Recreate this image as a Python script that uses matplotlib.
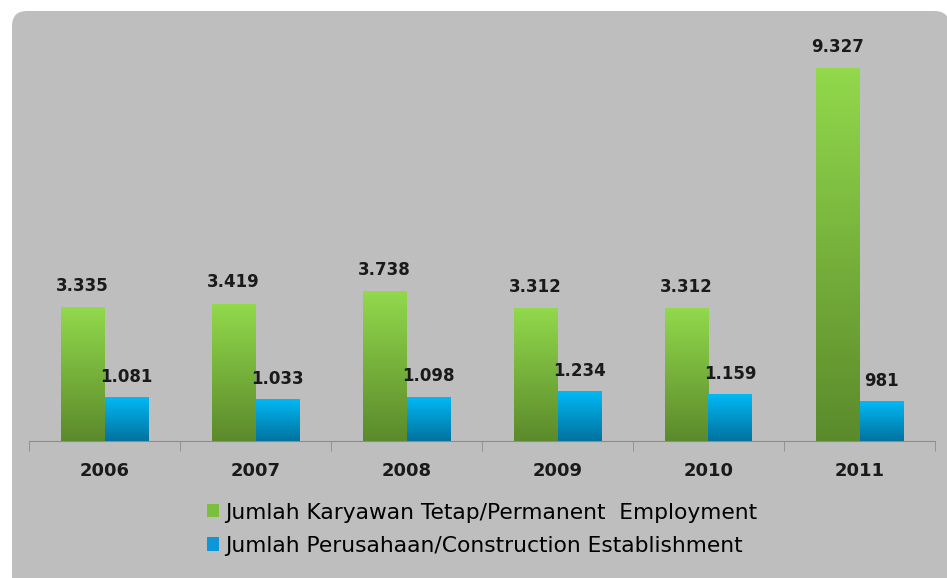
import numpy as np
import matplotlib.pyplot as plt
from matplotlib.patches import FancyBboxPatch, Patch
from matplotlib.colors import LinearSegmentedColormap

years = ["2006", "2007", "2008", "2009", "2010", "2011"]
employment = [3335, 3419, 3738, 3312, 3312, 9327]
establishment = [1081, 1033, 1098, 1234, 1159, 981]
emp_labels = ["3.335", "3.419", "3.738", "3.312", "3.312", "9.327"]
est_labels = ["1.081", "1.033", "1.098", "1.234", "1.159", "981"]
legend_names = ["Jumlah Karyawan Tetap/Permanent  Employment",
                "Jumlah Perusahaan/Construction Establishment"]

green_cm = LinearSegmentedColormap.from_list("g", ["#5b8a2b", "#92d94c"])
blue_cm = LinearSegmentedColormap.from_list("b", ["#00729f", "#00b9f5"])

fig = plt.figure(figsize=(9.47, 5.78), dpi=100)
fig.patch.set_facecolor("white")
bg = FancyBboxPatch((12 / 947, -0.05), 0.99, 1.031, boxstyle="round,pad=0,rounding_size=0.016",
                    transform=fig.transFigure, facecolor="#bebebe", edgecolor="none",
                    mutation_aspect=947 / 578, zorder=-5)
fig.patches.append(bg)

ax = fig.add_axes([29 / 947, 137 / 578, 906 / 947, 399 / 578])
ax.set_facecolor("none")
x = np.arange(len(years))
w = 0.29
b1 = ax.bar(x - w / 2, employment, w, color="none")
b2 = ax.bar(x + w / 2, establishment, w, color="none")

# vertical gradient fill for each bar
grad = np.linspace(0, 1, 256).reshape(-1, 1)
for bars, cm in ((b1, green_cm), (b2, blue_cm)):
    for r in bars:
        x0, y0 = r.get_x(), r.get_y()
        ax.imshow(grad, cmap=cm, origin="lower", aspect="auto",
                  extent=(x0, x0 + r.get_width(), y0, y0 + r.get_height()), zorder=2)

for r, t in zip(b1, emp_labels):
    ax.text(r.get_x() + r.get_width() / 2, r.get_height() + 330, t, ha="center", va="bottom",
            fontsize=12, fontweight="bold", color="#1a1a1a")
for r, t in zip(b2, est_labels):
    ax.text(r.get_x() + r.get_width() / 2, r.get_height() + 300, t, ha="center", va="bottom",
            fontsize=12, fontweight="bold", color="#1a1a1a")

ax.set_xlim(-0.5, len(years) - 0.5)
ax.set_ylim(0, 10000)
for s in ("top", "right", "left"):
    ax.spines[s].set_visible(False)
ax.spines["bottom"].set_color("#8c8c8c")
ax.set_yticks([])
ax.set_xticks(x)
ax.set_xticklabels(years, fontsize=13, fontweight="bold", color="#1a1a1a")
ax.tick_params(axis="x", which="major", length=0, pad=15)
ax.set_xticks(np.arange(-0.5, len(years)), minor=True)
ax.tick_params(axis="x", which="minor", length=7, color="#8c8c8c")

handles = [Patch(facecolor="#7cbf3f", edgecolor="none"),
           Patch(facecolor="#0c98d6", edgecolor="none")]
fig.legend(handles, legend_names, loc="upper left", bbox_to_anchor=(187 / 947, 1 - 483 / 578),
           frameon=False, handlelength=0.55, handleheight=0.55,
           handletextpad=0.3, labelspacing=0.6, prop={"family": "DejaVu Sans", "size": 15.7})

fig.savefig("out.png", dpi=100)
